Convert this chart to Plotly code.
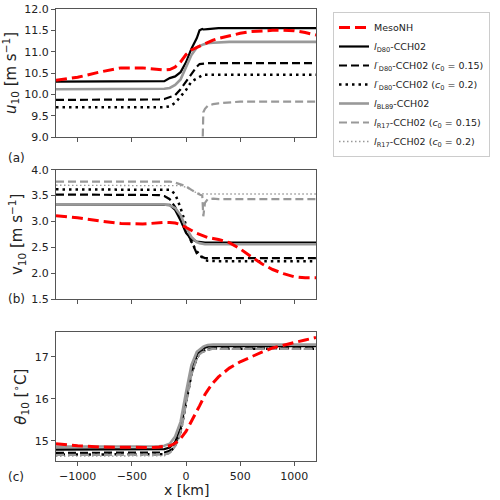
import plotly.graph_objects as go

# ---------------- data ----------------
x_km = [-1200, -1000, -800, -600, -400, -300, -250, -200, -150, -100, -50, 0, 50, 100,
        125, 150, 160, 175, 200, 250, 300, 400, 500, 600, 700, 800, 900, 1000, 1100, 1200]

names = ["MesoNH",
         "<i>l</i><sub>D80</sub>-CCH02",
         "<i>l</i><sup>·</sup><sub>D80</sub>-CCH02 (<i>c</i><sub>0</sub> = 0.15)",
         "<i>l</i><sup>·</sup><sub>D80</sub>-CCH02 (<i>c</i><sub>0</sub> = 0.2)",
         "<i>l</i><sub>BL89</sub>-CCH02",
         "<i>l</i><sub>R17</sub>-CCH02 (<i>c</i><sub>0</sub> = 0.15)",
         "<i>l</i><sub>R17</sub>-CCH02 (<i>c</i><sub>0</sub> = 0.2)"]

# u10 [m/s]
u_meso = [10.33, 10.40, 10.52, 10.62, 10.62, 10.59, 10.57, 10.57, 10.58, 10.64, 10.76, 10.93, 11.04, 11.10,
          11.13, 11.16, 11.17, 11.19, 11.22, 11.27, 11.31, 11.37, 11.43, 11.47, 11.49, 11.50, 11.50, 11.49, 11.45, 11.39]
u_d80 = [10.30, 10.30, 10.30, 10.30, 10.30, 10.30, 10.30, 10.31, 10.38, 10.42, 10.52, 10.75, 11.07, 11.32,
         11.50, 11.53, 11.52, 11.52, 11.53, 11.54, 11.55, 11.55, 11.55, 11.55, 11.55, 11.55, 11.55, 11.55, 11.55, 11.55]
u_d80_015 = [9.87, 9.87, 9.87, 9.87, 9.87, 9.87, 9.88, 9.89, 9.93, 9.98, 10.12, 10.30, 10.48, 10.65,
             10.71, 10.72, 10.73, 10.73, 10.73, 10.73, 10.73, 10.73, 10.73, 10.73, 10.73, 10.73, 10.73, 10.73, 10.73, 10.73]
u_d80_02 = [9.70, 9.70, 9.70, 9.70, 9.70, 9.70, 9.70, 9.70, 9.72, 9.80, 9.95, 10.10, 10.30, 10.38,
            10.42, 10.45, 10.46, 10.46, 10.46, 10.46, 10.46, 10.46, 10.46, 10.46, 10.46, 10.46, 10.46, 10.46, 10.46, 10.46]
u_bl89 = [10.12, 10.12, 10.12, 10.12, 10.12, 10.12, 10.12, 10.13, 10.15, 10.22, 10.35, 10.62, 10.92, 11.10,
          11.14, 11.16, 11.17, 11.18, 11.20, 11.21, 11.22, 11.23, 11.23, 11.23, 11.23, 11.23, 11.23, 11.23, 11.23, 11.23]
u_r17_015 = [8.5, 8.5, 8.5, 8.5, 8.5, 8.5, 8.5, 8.5, 8.5, 8.5, 8.5, 8.5, 8.5, 8.5,
             8.5, 8.5, 9.58, 9.66, 9.73, 9.77, 9.79, 9.81, 9.83, 9.83, 9.83, 9.83, 9.83, 9.83, 9.83, 9.83]
u_r17_02 = [None] * len(x_km)

# v10 [m/s]
v_meso = [3.11, 3.07, 3.01, 2.96, 2.95, 2.97, 2.98, 2.98, 2.98, 2.97, 2.94, 2.88, 2.82, 2.77,
          2.75, 2.73, 2.72, 2.71, 2.69, 2.67, 2.65, 2.59, 2.47, 2.32, 2.18, 2.07, 1.99, 1.93, 1.91, 1.91]
v_d80 = [3.33, 3.33, 3.33, 3.33, 3.33, 3.33, 3.33, 3.33, 3.32, 3.22, 3.02, 2.78, 2.66, 2.61,
         2.60, 2.59, 2.59, 2.59, 2.59, 2.59, 2.59, 2.59, 2.59, 2.59, 2.59, 2.59, 2.59, 2.59, 2.59, 2.59]
v_d80_015 = [3.52, 3.52, 3.52, 3.52, 3.52, 3.52, 3.51, 3.49, 3.43, 3.28, 3.04, 2.84, 2.60, 2.38,
             2.33, 2.31, 2.30, 2.29, 2.29, 2.29, 2.29, 2.29, 2.29, 2.29, 2.29, 2.29, 2.29, 2.29, 2.29, 2.29]
v_d80_02 = [3.62, 3.62, 3.62, 3.62, 3.62, 3.62, 3.62, 3.62, 3.61, 3.53, 3.26, 2.93, 2.60, 2.42,
            2.36, 2.31, 2.28, 2.25, 2.24, 2.23, 2.23, 2.23, 2.23, 2.23, 2.23, 2.23, 2.23, 2.23, 2.23, 2.23]
v_bl89 = [3.33, 3.33, 3.33, 3.33, 3.33, 3.33, 3.33, 3.33, 3.31, 3.26, 3.12, 2.88, 2.70, 2.60,
          2.58, 2.57, 2.56, 2.56, 2.56, 2.56, 2.56, 2.56, 2.56, 2.56, 2.56, 2.56, 2.56, 2.56, 2.56, 2.56]
v_r17_015 = [3.77, 3.77, 3.77, 3.77, 3.77, 3.77, 3.77, 3.77, 3.77, 3.75, 3.72, 3.68, 3.61, 3.54,
             3.52, 3.50, 3.10, 3.36, 3.43, 3.44, 3.43, 3.43, 3.43, 3.43, 3.43, 3.43, 3.43, 3.43, 3.43, 3.43]
v_r17_02 = [3.70, 3.70, 3.70, 3.70, 3.70, 3.70, 3.70, 3.70, 3.70, 3.70, 3.69, 3.66, 3.60, 3.55,
            3.54, 3.53, 3.53, 3.53, 3.53, 3.53, 3.53, 3.53, 3.53, 3.53, 3.53, 3.53, 3.53, 3.53, 3.53, 3.53]

# theta10 [deg C]
t_meso = [14.93, 14.88, 14.85, 14.84, 14.84, 14.84, 14.85, 14.86, 14.88, 14.94, 15.05, 15.22, 15.45, 15.70,
          15.83, 15.96, 16.02, 16.10, 16.20, 16.38, 16.52, 16.73, 16.88, 17.00, 17.11, 17.21, 17.28, 17.34, 17.40, 17.46]
t_d80 = [14.79, 14.79, 14.79, 14.79, 14.79, 14.79, 14.79, 14.80, 14.84, 14.97, 15.30, 15.98, 16.68, 17.05,
         17.14, 17.19, 17.20, 17.22, 17.24, 17.25, 17.25, 17.25, 17.25, 17.25, 17.25, 17.25, 17.25, 17.25, 17.25, 17.25]
t_d80_015 = [14.71, 14.71, 14.71, 14.71, 14.71, 14.71, 14.71, 14.72, 14.76, 14.90, 15.22, 15.90, 16.60, 16.98,
             17.08, 17.13, 17.14, 17.16, 17.18, 17.20, 17.20, 17.20, 17.20, 17.20, 17.20, 17.20, 17.20, 17.20, 17.20, 17.20]
t_d80_02 = [14.67, 14.67, 14.67, 14.67, 14.67, 14.67, 14.67, 14.68, 14.72, 14.88, 15.20, 15.88, 16.58, 16.97,
            17.07, 17.12, 17.13, 17.15, 17.17, 17.19, 17.19, 17.19, 17.19, 17.19, 17.19, 17.19, 17.19, 17.19, 17.19, 17.19]
t_bl89 = [14.86, 14.86, 14.86, 14.86, 14.86, 14.86, 14.87, 14.88, 14.93, 15.10, 15.45, 16.15, 16.80, 17.12,
          17.18, 17.22, 17.24, 17.26, 17.28, 17.29, 17.29, 17.29, 17.29, 17.29, 17.29, 17.29, 17.29, 17.29, 17.29, 17.29]
t_r17_015 = [14.66, 14.66, 14.66, 14.66, 14.66, 14.66, 14.66, 14.67, 14.71, 14.87, 15.19, 15.87, 16.57, 16.96,
             17.06, 17.11, 17.12, 17.14, 17.16, 17.19, 17.19, 17.19, 17.19, 17.19, 17.19, 17.19, 17.19, 17.19, 17.19, 17.19]
t_r17_02 = [14.63, 14.63, 14.63, 14.63, 14.63, 14.63, 14.63, 14.64, 14.69, 14.85, 15.17, 15.85, 16.55, 16.95,
            17.05, 17.10, 17.11, 17.13, 17.15, 17.18, 17.18, 17.18, 17.18, 17.18, 17.18, 17.18, 17.18, 17.18, 17.18, 17.18]

u_series = [u_meso, u_d80, u_d80_015, u_d80_02, u_bl89, u_r17_015, u_r17_02]
v_series = [v_meso, v_d80, v_d80_015, v_d80_02, v_bl89, v_r17_015, v_r17_02]
t_series = [t_meso, t_d80, t_d80_015, t_d80_02, t_bl89, t_r17_015, t_r17_02]

# ---------------- styles ----------------
GRAY = "#999999"
styles = [
    dict(color="red", width=3, dash="11px,5px"),
    dict(color="black", width=2.2, dash="solid"),
    dict(color="black", width=2.2, dash="8px,4px"),
    dict(color="black", width=2.5, dash="2.5px,4px"),
    dict(color=GRAY, width=2.6, dash="solid"),
    dict(color=GRAY, width=2.2, dash="8px,4px"),
    dict(color=GRAY, width=1.3, dash="1.5px,2.5px"),
]
draw_order = [1, 2, 3, 4, 5, 6, 0]

fig = go.Figure()
panels = [(u_series, "x", "y"), (v_series, "x2", "y2"), (t_series, "x3", "y3")]
for p, (series, xa, ya) in enumerate(panels):
    for i in draw_order:
        fig.add_trace(go.Scatter(
            x=x_km, y=series[i], mode="lines", name=names[i],
            line=styles[i], xaxis=xa, yaxis=ya,
            showlegend=(p == 1), legendrank=i + 1,
            connectgaps=False, hoverinfo="skip"))

XL, XR = 56 / 500, 316 / 500
doms = [(1 - 137 / 500, 1 - 9 / 500), (1 - 299 / 500, 1 - 169.7 / 500), (1 - 461.3 / 500, 1 - 332 / 500)]
axcommon = dict(showline=True, linecolor="#555555", linewidth=1.2, mirror=True, ticks="outside",
                ticklen=4, tickcolor="#555555", showgrid=False, zeroline=False, automargin=False,
                tickfont=dict(family="DejaVu Sans", size=11, color="#222"))

xticks = [-1000, -500, 0, 500, 1000]
layout = dict(
    width=500, height=500, margin=dict(l=0, r=0, t=0, b=0),
    plot_bgcolor="white", paper_bgcolor="white",
    font=dict(family="DejaVu Sans", color="#222"),
    showlegend=True,
    legend=dict(x=333 / 500, y=1 - 12 / 500, xanchor="left", yanchor="top",
                bgcolor="white", bordercolor="#cccccc", borderwidth=1,
                font=dict(family="DejaVu Sans", size=9.5, color="#222"),
                tracegroupgap=0, itemwidth=30, traceorder="normal"),
)
for k in range(3):
    sfx = "" if k == 0 else str(k + 1)
    layout["xaxis" + sfx] = dict(axcommon, domain=[XL, XR], range=[-1200, 1200], tickvals=xticks,
                                 showticklabels=(k == 2), anchor="y" + sfx)
layout["xaxis3"]["ticklabelstandoff"] = 0
layout["yaxis"] = dict(axcommon, domain=list(doms[0]), range=[9.0, 12.0], tickvals=[9, 9.5, 10, 10.5, 11, 11.5, 12],
                       tickformat=".1f", anchor="x",
                       title=dict(text="<i>u</i><sub>10</sub> [m s<sup>−1</sup>]", font=dict(size=15), standoff=4))
layout["yaxis2"] = dict(axcommon, domain=list(doms[1]), range=[1.5, 4.0], tickvals=[1.5, 2, 2.5, 3, 3.5, 4],
                        tickformat=".1f", anchor="x2",
                        title=dict(text="v<sub>10</sub> [m s<sup>−1</sup>]", font=dict(size=15), standoff=4))
layout["yaxis3"] = dict(axcommon, domain=list(doms[2]), range=[14.51, 17.59], tickvals=[15, 16, 17],
                        anchor="x3",
                        title=dict(text="<i>θ</i><sub>10</sub> [<sup>∘</sup>C]", font=dict(size=15), standoff=4))
layout["annotations"] = [
    dict(text=t, x=16 / 500, y=1 - yy / 500, xref="paper", yref="paper", showarrow=False,
         xanchor="center", yanchor="middle", font=dict(family="DejaVu Sans", size=12, color="#222"))
    for t, yy in [("(a)", 158), ("(b)", 299), ("(c)", 477)]
] + [dict(text="x [km]", x=(XL + XR) / 2, y=0, xref="paper", yref="paper", showarrow=False,
          xanchor="center", yanchor="bottom", yshift=0, font=dict(family="DejaVu Sans", size=14, color="#222"))]
fig.update_layout(**layout)
fig.write_html("out.html", config={"displayModeBar": False},
               post_script=("document.documentElement.style.margin='0';"
                            "document.documentElement.style.overflow='hidden';"
                            "document.body.style.margin='0';document.body.style.padding='0';"
                            "document.body.style.overflow='hidden';document.body.style.height='500px';"))
